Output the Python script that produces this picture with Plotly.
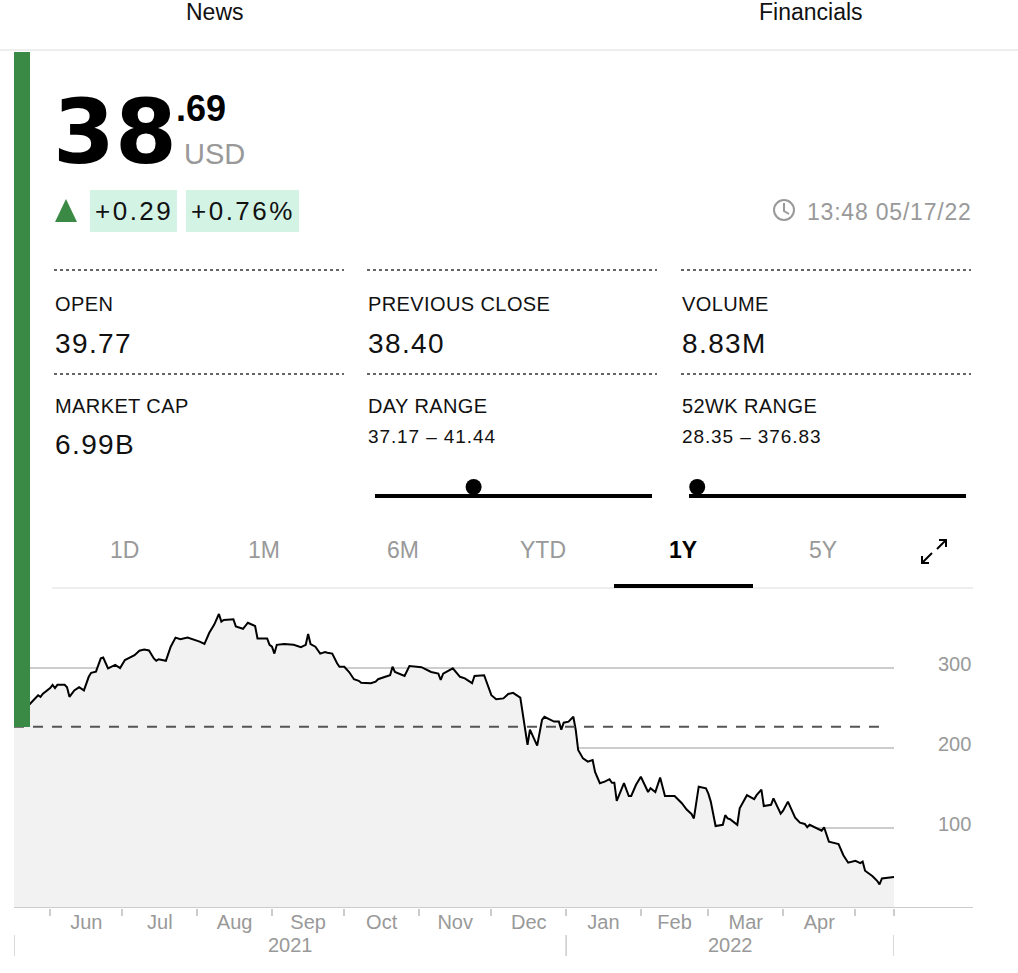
import plotly.graph_objects as go
import pandas as pd

W, H = 1018, 973
FONT = "Liberation Sans, Arial, Helvetica, sans-serif"
BIGFONT = "DejaVu Sans, Liberation Sans, sans-serif"

# ---------------- data ----------------
dates = [
    "2021-05-17", "2021-05-20", "2021-05-22", "2021-05-24", "2021-05-25", "2021-05-27", "2021-05-28", "2021-05-29",
    "2021-06-01", "2021-06-02", "2021-06-03", "2021-06-04", "2021-06-07", "2021-06-08", "2021-06-09", "2021-06-11",
    "2021-06-13", "2021-06-15", "2021-06-17", "2021-06-18", "2021-06-20", "2021-06-22", "2021-06-23", "2021-06-24",
    "2021-06-25", "2021-06-28", "2021-06-29", "2021-06-30", "2021-07-02", "2021-07-04", "2021-07-06", "2021-07-08",
    "2021-07-10", "2021-07-12", "2021-07-14", "2021-07-15", "2021-07-16", "2021-07-19", "2021-07-21", "2021-07-23",
    "2021-07-25", "2021-07-28", "2021-07-30", "2021-08-02", "2021-08-04", "2021-08-06", "2021-08-08", "2021-08-10",
    "2021-08-11", "2021-08-12", "2021-08-16", "2021-08-17", "2021-08-20", "2021-08-22", "2021-08-25", "2021-08-26",
    "2021-08-30", "2021-08-31", "2021-09-01", "2021-09-02", "2021-09-03", "2021-09-06", "2021-09-10", "2021-09-13",
    "2021-09-15", "2021-09-16", "2021-09-17", "2021-09-19", "2021-09-21", "2021-09-23", "2021-09-24", "2021-09-26",
    "2021-09-28", "2021-09-29", "2021-10-01", "2021-10-03", "2021-10-05", "2021-10-07", "2021-10-08", "2021-10-12",
    "2021-10-14", "2021-10-15", "2021-10-18", "2021-10-20", "2021-10-21", "2021-10-22", "2021-10-26", "2021-10-28",
    "2021-11-02", "2021-11-06", "2021-11-09", "2021-11-10", "2021-11-11", "2021-11-15", "2021-11-18", "2021-11-20",
    "2021-11-23", "2021-11-24", "2021-11-28", "2021-12-01", "2021-12-03", "2021-12-06", "2021-12-08", "2021-12-10",
    "2021-12-13", "2021-12-14", "2021-12-16", "2021-12-17", "2021-12-20", "2021-12-22", "2021-12-23", "2021-12-27",
    "2021-12-29", "2021-12-30", "2021-12-31", "2022-01-02", "2022-01-04", "2022-01-05", "2022-01-06", "2022-01-08",
    "2022-01-10", "2022-01-12", "2022-01-13", "2022-01-15", "2022-01-17", "2022-01-19", "2022-01-20", "2022-01-21",
    "2022-01-22", "2022-01-25", "2022-01-27", "2022-01-28", "2022-01-30", "2022-02-01", "2022-02-04", "2022-02-05",
    "2022-02-07", "2022-02-09", "2022-02-11", "2022-02-15", "2022-02-18", "2022-02-20", "2022-02-22", "2022-02-23",
    "2022-02-25", "2022-02-28", "2022-03-01", "2022-03-02", "2022-03-04", "2022-03-07", "2022-03-08", "2022-03-09",
    "2022-03-10", "2022-03-13", "2022-03-14", "2022-03-17", "2022-03-20", "2022-03-21", "2022-03-23", "2022-03-24",
    "2022-03-27", "2022-03-28", "2022-03-31", "2022-04-01", "2022-04-03", "2022-04-06", "2022-04-08", "2022-04-10",
    "2022-04-11", "2022-04-12", "2022-04-14", "2022-04-17", "2022-04-18", "2022-04-20", "2022-04-24", "2022-04-26",
    "2022-04-28", "2022-05-01", "2022-05-03", "2022-05-04", "2022-05-05", "2022-05-08", "2022-05-10", "2022-05-11",
    "2022-05-12", "2022-05-14", "2022-05-17",
]
prices = [
    226.7, 243, 250, 256, 260, 266, 264, 268,
    275, 279, 275, 279, 279, 276, 264, 272,
    276, 272, 289, 294, 295.5, 312, 313, 306,
    299.5, 304, 302, 300, 310, 313, 316, 321.6,
    323, 322, 312, 309, 311, 309, 326.6, 338,
    336, 338, 336, 333, 330, 344, 354, 367.5,
    358, 360, 361, 352, 349, 356.6, 352.5, 337,
    337, 329, 326.6, 318, 329, 330, 329, 326,
    329, 342.5, 330, 326.6, 318, 320, 319, 318,
    306, 301.6, 301.6, 295, 286, 284, 281.6, 281,
    283, 286, 289, 291, 301.6, 295, 290, 302.5,
    301, 295, 293, 285, 293, 299.6, 289, 287,
    281, 290, 291, 266, 261, 262, 267.5, 269,
    263, 243, 204, 223, 203, 235, 239, 233,
    233, 223, 231.6, 233, 239, 222.5, 197.5, 187,
    183, 185, 170, 156, 158, 161, 156.6, 156.6,
    134, 156, 140, 140, 154, 164, 145, 149.6,
    145, 163, 140, 140, 131, 123, 117.5, 112,
    151.6, 149.6, 143, 133, 102.5, 104, 116, 112,
    111, 104, 124.6, 141, 136, 141, 148, 127.5,
    129, 137, 118, 121.6, 133, 113, 106.6, 105,
    101, 104, 101, 96.6, 101, 83, 80, 66,
    56.6, 59, 56, 58, 46.6, 40, 34, 29.6,
    37, 38, 38.69,
]

range_start, range_end = "2021-05-17", "2022-05-17"
ref_close = 226.7          # dashed reference line (close one year ago)
y_ticks = [100, 200, 300]
month_labels = ["Jun", "Jul", "Aug", "Sep", "Oct", "Nov", "Dec", "Jan", "Feb", "Mar", "Apr"]
year_labels = ["2021", "2022"]
year_bounds = [range_start, "2022-01-01", range_end]

price_int, price_dec, currency = "38", ".69", "USD"
change_abs, change_pct = "+0.29", "+0.76%"
timestamp = "13:48 05/17/22"
stat_labels = ["OPEN", "PREVIOUS CLOSE", "VOLUME", "MARKET CAP", "DAY RANGE", "52WK RANGE"]
stat_values = ["39.77", "38.40", "8.83M", "6.99B", "37.17 \u2013 41.44", "28.35 \u2013 376.83"]
last_price = 38.69
day_low, day_high = 37.17, 41.44
wk_low, wk_high = 28.35, 376.83
tabs = ["1D", "1M", "6M", "YTD", "1Y", "5Y"]
active_tab = "1Y"
nav_items = ["News", "Financials"]

# ---------------- helpers (layout in pixels) ----------------
GREEN = "#3a8a45"
MINT = "#d3f4e5"
GRAY = "#999999"
annotations, shapes = [], []


def fx(x):
    return x / W


def fy(y):
    return 1 - y / H


def text(t, x, base, size, color="#111111", anchor="left", bold=False, ls=None, family=FONT, asc=0.905):
    if bold:
        t = f"<b>{t}</b>"
    if ls:
        t = f"<span style='letter-spacing:{ls}px'>{t}</span>"
    ytop = base - asc * size - 1
    annotations.append(dict(text=t, x=fx(x), y=fy(ytop), xref="paper", yref="paper",
                            xanchor=anchor, yanchor="top", showarrow=False, borderpad=0,
                            font=dict(size=size, color=color, family=family)))


def line(x0, y0, x1, y1, color, width, dash=None, layer="above"):
    shapes.append(dict(type="line", xref="paper", yref="paper", x0=fx(x0), y0=fy(y0), x1=fx(x1), y1=fy(y1),
                       line=dict(color=color, width=width, dash=dash), layer=layer))


def rect(x0, y0, x1, y1, color, layer="above"):
    shapes.append(dict(type="rect", xref="paper", yref="paper", x0=fx(x0), y0=fy(y0), x1=fx(x1), y1=fy(y1),
                       fillcolor=color, line=dict(width=0), layer=layer))


def circle(cx, cy, r, fill=None, outline=None, width=0):
    shapes.append(dict(type="circle", xref="paper", yref="paper", x0=fx(cx - r), y0=fy(cy + r),
                       x1=fx(cx + r), y1=fy(cy - r), fillcolor=fill or "rgba(0,0,0,0)",
                       line=dict(color=outline or "rgba(0,0,0,0)", width=width)))


def path(points, color, width=0, fill=None, closed=False):
    d = "M" + " L".join(f"{fx(x)},{fy(y)}" for x, y in points) + (" Z" if closed else "")
    shapes.append(dict(type="path", xref="paper", yref="paper", path=d,
                       fillcolor=fill or "rgba(0,0,0,0)",
                       line=dict(color=color, width=width)))


# ---------------- chart geometry ----------------
PL, PR, PT, PB = 14, 894, 600, 908
Y_MAX = 385
LABEL_LIFT = 5   # y tick labels sit slightly above their gridlines

x_dates = pd.to_datetime(dates)
month_starts = pd.date_range("2021-06-01", "2022-05-01", freq="MS")
month_mid = [month_starts[i] + (month_starts[i + 1] - month_starts[i]) / 2 for i in range(len(month_labels))]
minor_ticks = list(month_starts) + [pd.Timestamp(range_end)]

fig = go.Figure()
fig.add_trace(go.Scatter(x=x_dates, y=prices, mode="lines", fill="tozeroy",
                         fillcolor="#f2f2f2", line=dict(color="#000000", width=2),
                         hoverinfo="skip", showlegend=False))

# reference dashed line and axis baseline (data coordinates in y)
shapes.append(dict(type="line", xref="paper", yref="y", x0=fx(PL), x1=fx(884), y0=ref_close, y1=ref_close,
                   line=dict(color="#555555", width=2, dash="10px,9px"), layer="above"))
shapes.append(dict(type="line", xref="paper", yref="y", x0=fx(PL), x1=fx(973), y0=0, y1=0,
                   line=dict(color="#cccccc", width=2), layer="above"))

# year row
ts_bounds = pd.to_datetime(year_bounds)
for i, yl in enumerate(year_labels):
    mid = ts_bounds[i] + (ts_bounds[i + 1] - ts_bounds[i]) / 2
    annotations.append(dict(text=yl, x=mid, y=fy(945), xref="x", yref="paper", xanchor="center",
                            yanchor="middle", showarrow=False,
                            font=dict(size=20, color=GRAY, family=FONT)))
for b in ts_bounds:
    shapes.append(dict(type="line", xref="x", yref="paper", x0=b, x1=b, y0=fy(935), y1=fy(956),
                       line=dict(color="#cccccc", width=1.5)))

# ---------------- header ----------------
text(nav_items[0], 215, 20, 23, "#111111", anchor="center")
text(nav_items[1], 811, 20, 23, "#111111", anchor="center")
line(0, 50, W, 50, "#eeeeee", 2)

# green side bar
rect(14, 52, 30, 727, GREEN)

# price
text(price_int, 52, 163, 89, "#000000", bold=True, family=BIGFONT, asc=0.928)
text(price_dec, 175, 121, 36, "#000000", bold=True)
text(currency, 183, 164, 29, GRAY)

# change
path([(55, 222), (77, 222), (66, 199)], GREEN, 0, fill=GREEN, closed=True)
rect(90, 190, 177, 232, MINT)
rect(186, 190, 299, 232, MINT)
text(change_abs, 133.5, 220, 26, "#111111", anchor="center", ls=2.5)
text(change_pct, 242.5, 220, 26, "#111111", anchor="center", ls=2.5)

# timestamp with clock icon
circle(784, 210, 10, outline=GRAY, width=2)
path([(784, 203), (784, 211), (789, 214)], GRAY, 2)
text(timestamp, 973, 220, 23, GRAY, anchor="right", ls=0.8)

# stats grid
cols = [54, 367, 681]
for c in cols:
    line(c, 270, c + 290, 270, "#333333", 1.5, dash="dot")
    line(c, 374, c + 290, 374, "#333333", 1.5, dash="dot")
for i, lab in enumerate(stat_labels):
    c = cols[i % 3]
    row = i // 3
    text(lab, c, 311 if row == 0 else 413, 20, "#111111", ls=0.4)
    if row == 0:
        text(stat_values[i], c, 353, 28, "#111111", ls=1.4)
    elif i == 3:
        text(stat_values[i], c, 454, 28, "#111111", ls=1.4)
    else:
        text(stat_values[i], c, 443, 19, "#111111", ls=0.9)

# range bars
for (x0, x1), lo, hi in [((375, 652), day_low, day_high), ((689, 966), wk_low, wk_high)]:
    line(x0, 496, x1, 496, "#000000", 4)
    frac = (last_price - lo) / (hi - lo)
    circle(x0 + frac * (x1 - x0), 487, 8, fill="#000000")

# tabs
tab_centers = [124, 264, 403, 543, 683, 823]
for t, cx in zip(tabs, tab_centers):
    act = t == active_tab
    text(t, cx, 558, 23, "#000000" if act else GRAY, anchor="center", bold=act)
line(52, 588, 973, 588, "#eeeeee", 2)
line(614, 586, 753, 586, "#000000", 4)
# expand icon
path([(923, 562), (932, 553)], "#000000", 2)
path([(922, 556), (922, 563), (929, 563)], "#000000", 2)
path([(937, 549), (946, 540)], "#000000", 2)
path([(939, 540), (946, 540), (946, 547)], "#000000", 2)

# ---------------- layout ----------------
fig.update_layout(
    width=W, height=H, margin=dict(l=0, r=0, t=0, b=0),
    paper_bgcolor="#ffffff", plot_bgcolor="#ffffff",
    showlegend=False, font=dict(family=FONT),
    annotations=annotations, shapes=shapes,
    xaxis=dict(domain=[fx(PL), fx(PR)], type="date", range=[range_start, range_end],
               tickvals=month_mid, ticktext=month_labels, ticks="",
               tickfont=dict(size=20, color=GRAY, family=FONT),
               showgrid=False, showline=False, zeroline=False, fixedrange=True,
               minor=dict(tickvals=minor_ticks, ticks="outside", ticklen=7, tickwidth=2,
                          tickcolor="#cccccc", showgrid=False)),
    yaxis=dict(domain=[fy(PB), fy(PT)], range=[0, Y_MAX], side="right",
               tickvals=[v + LABEL_LIFT for v in y_ticks], ticktext=[str(v) for v in y_ticks],
               ticks="", ticklabelstandoff=43,
               tickfont=dict(size=20, color=GRAY, family=FONT),
               showgrid=False, zeroline=False, showline=False, fixedrange=True,
               minor=dict(tickvals=y_ticks, ticks="", showgrid=True,
                          gridcolor="#cdcdcd", gridwidth=2)),
)

fig.write_html("out.html")
